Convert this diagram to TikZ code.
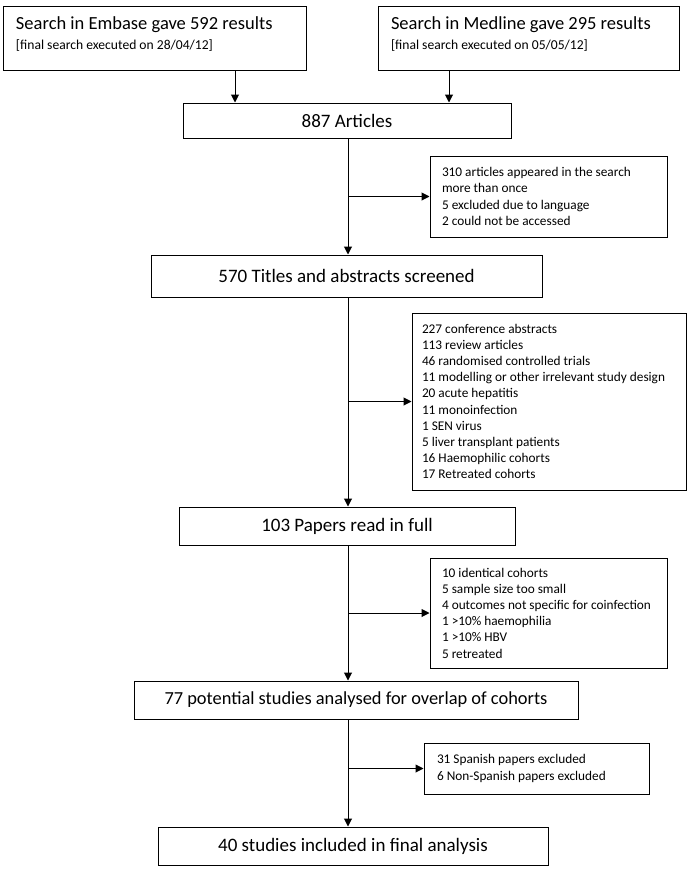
\documentclass[tikz,border=0pt]{standalone}
\usepackage{fontspec}
\setmainfont{Carlito}
\usetikzlibrary{arrows.meta}
\tikzset{
  mainbox/.style={draw=black, line width=1pt, inner sep=0pt, align=flush center,
    font=\fontsize{19}{22}\selectfont},
  listbox/.style={draw=black, line width=1pt, inner ysep=0pt, align=flush left,
    font=\fontsize{13.3}{16.2}\selectfont},
  arr/.style={-{Triangle[length=8pt,width=8pt]}, line width=1pt}
}
\begin{document}
\begin{tikzpicture}[x=1pt,y=-1pt]
\useasboundingbox (0,0) rectangle (690,870);
\fill[white] (0,0) rectangle (690,870);

\coordinate (trunk) at (348,0);
\coordinate (ea) at (235,0);
\coordinate (ma) at (449,0);

% sources
\node[listbox, minimum width=303pt, minimum height=64pt, text width=277pt, inner xsep=13pt,
  font=\fontsize{18.5}{22}\selectfont] (embase) at (154.5,38)
  {Search in Embase gave 592 results\\[-2.5pt]{\fontsize{13.6}{16}\selectfont [final search executed on 28/04/12]}\\[-19pt]\strut};
\node[listbox, minimum width=301pt, minimum height=64pt, text width=275pt, inner xsep=13pt,
  font=\fontsize{18.5}{22}\selectfont] (medline) at (528.5,38)
  {Search in Medline gave 295 results\\[-2.5pt]{\fontsize{13.6}{16}\selectfont [final search executed on 05/05/12]}\\[-19pt]\strut};

% main flow
\node[mainbox, minimum width=328pt, minimum height=35pt] (art) at (347,120.5) {887 Articles};
\node[mainbox, minimum width=391pt, minimum height=42pt] (scr) at (346.5,276) {570 Titles and abstracts screened};
\node[mainbox, minimum width=336pt, minimum height=38pt] (full) at (347,526) {103 Papers read in full};
\node[mainbox, minimum width=444pt, minimum height=38pt, font=\fontsize{18.4}{22}\selectfont] (pot) at (356,700) {77 potential studies analysed for overlap of cohorts};
\node[mainbox, minimum width=390pt, minimum height=38pt] (fin) at (353,846) {40 studies included in final analysis};

% exclusion boxes
\node[listbox, minimum width=237pt, minimum height=81pt, text width=213pt, inner xsep=12pt] (ex1) at (548.5,196.5)
  {310 articles appeared in the search\\more than once\\5 excluded due to language\\2 could not be accessed};
\node[listbox, minimum width=274pt, minimum height=177pt, text width=254pt, inner xsep=10pt] (ex2) at (549,401.5)
  {227 conference abstracts\\113 review articles\\46 randomised controlled trials\\11 modelling or other irrelevant study design\\20 acute hepatitis\\11 monoinfection\\1 SEN virus\\5 liver transplant patients\\16 Haemophilic cohorts\\17 Retreated cohorts};
\node[listbox, minimum width=237pt, minimum height=110pt, text width=213pt, inner xsep=12pt] (ex3) at (548.5,613)
  {10 identical cohorts\\5 sample size too small\\4 outcomes not specific for coinfection\\1 >10\% haemophilia\\1 >10\% HBV\\5 retreated};
\node[listbox, minimum width=225pt, minimum height=51pt, text width=199pt, inner xsep=13pt] (ex4) at (536.5,768.5)
  {31 Spanish papers excluded\\6 Non-Spanish papers excluded};

% connectors
\draw[arr] (embase.south -| ea) -- (art.north -| ea);
\draw[arr] (medline.south -| ma) -- (art.north -| ma);
\draw[arr] (art.south -| trunk) -- (scr.north -| trunk);
\draw[arr] (scr.south -| trunk) -- (full.north -| trunk);
\draw[arr] (full.south -| trunk) -- (pot.north -| trunk);
\draw[arr] (pot.south -| trunk) -- (fin.north -| trunk);
\draw[arr] (ex1.west -| trunk) -- (ex1.west);
\draw[arr] (ex2.west -| trunk) -- (ex2.west);
\draw[arr] (ex3.west -| trunk) -- (ex3.west);
\draw[arr] (ex4.west -| trunk) -- (ex4.west);
\end{tikzpicture}
\end{document}
